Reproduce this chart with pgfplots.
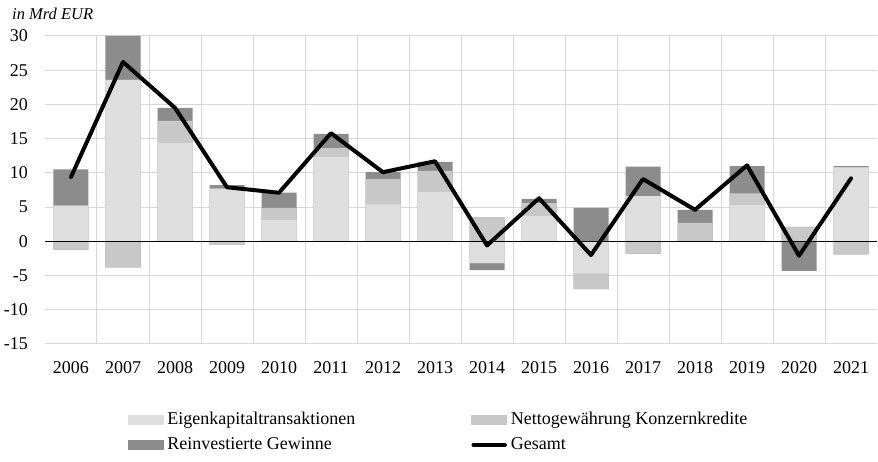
\documentclass[border=0pt]{standalone}
\usepackage{pgfplots}
\pgfplotsset{compat=1.18}
\usepackage{pgfplotstable}
\usepackage{fontspec}
\setmainfont{Liberation Serif}
\definecolor{cE}{HTML}{DEDEDE}
\definecolor{cN}{HTML}{C8C8C8}
\definecolor{cR}{HTML}{8C8C8C}
\definecolor{cG}{HTML}{D6D6D6}

% x: 0 = 2006 ... 15 = 2021
\pgfplotstableread{
x E N R T
0 5.2 -1.2 5.3 9.4
1 23.6 -3.8 6.4 26.2
2 14.4 3.2 1.9 19.5
3 7.7 -0.5 0.5 7.9
4 3.1 1.8 2.2 7.1
5 12.3 1.3 2.1 15.8
6 5.4 3.7 1.0 10.1
7 7.2 3.1 1.3 11.7
8 -3.2 3.5 -1.0 -0.6
9 3.7 1.9 0.6 6.3
10 -4.7 -2.3 4.9 -2.0
11 6.6 -1.8 4.3 9.1
12 0.0 2.7 1.9 4.6
13 5.3 1.7 4.0 11.1
14 0.0 2.1 -4.3 -2.1
15 10.8 -1.9 0.2 9.2
}\data

\begin{document}
\begin{tikzpicture}
\path[use as bounding box] (-45pt,-118pt) rectangle (833pt,344pt);
\begin{axis}[
  name=ax, at={(0pt,0pt)}, anchor=south west,
  scale only axis, width=832pt, height=308pt,
  xmin=-0.5, xmax=15.5, ymin=-15, ymax=30,
  axis line style={draw=none},
  major tick length=0pt, minor tick length=0pt,
  ytick={-15,-10,-5,0,5,10,15,20,25,30},
  yticklabels={-15,-10,-5,0,5,10,15,20,25,30},
  xtick={0,1,2,3,4,5,6,7,8,9,10,11,12,13,14,15},
  xticklabels={2006,2007,2008,2009,2010,2011,2012,2013,2014,2015,2016,2017,2018,2019,2020,2021},
  minor xtick={0.5,1.5,2.5,3.5,4.5,5.5,6.5,7.5,8.5,9.5,10.5,11.5,12.5,13.5,14.5},
  ymajorgrids, xminorgrids,
  major grid style={cG, line width=1pt},
  minor grid style={cG, line width=1pt},
  tick label style={font=\fontsize{18}{20}\selectfont, inner sep=0pt},
  yticklabel shift=17pt,
  xticklabel shift=17pt,
  legend columns=2,
  legend cell align=left,
  legend style={at={(axis description cs:0.0998,-0.2192)}, anchor=north west,
    draw=none, fill=none, inner sep=0pt, outer sep=0pt,
    font=\fontsize{18}{20}\selectfont,
    nodes={inner sep=0pt, text height=13pt, text depth=4pt},
    column sep=0pt, row sep=8pt,
    /tikz/every odd column/.append style={column sep=4pt}},
]
% positive stacks (drawn as overlapping cumulative bars)
\addplot[ybar, bar width=35pt, bar shift=0pt, fill=cR, draw=none, forget plot]
  table[x=x, y expr={max(\thisrow{E},0)+max(\thisrow{N},0)+max(\thisrow{R},0)}] {\data};
\addplot[ybar, bar width=35pt, bar shift=0pt, fill=cN, draw=none, forget plot]
  table[x=x, y expr={max(\thisrow{E},0)+max(\thisrow{N},0)}] {\data};
\addplot[ybar, bar width=35pt, bar shift=0pt, fill=cE, draw=none, forget plot]
  table[x=x, y expr={max(\thisrow{E},0)}] {\data};
% negative stacks
\addplot[ybar, bar width=35pt, bar shift=0pt, fill=cR, draw=none, forget plot]
  table[x=x, y expr={min(\thisrow{E},0)+min(\thisrow{N},0)+min(\thisrow{R},0)}] {\data};
\addplot[ybar, bar width=35pt, bar shift=0pt, fill=cN, draw=none, forget plot]
  table[x=x, y expr={min(\thisrow{E},0)+min(\thisrow{N},0)}] {\data};
\addplot[ybar, bar width=35pt, bar shift=0pt, fill=cE, draw=none, forget plot]
  table[x=x, y expr={min(\thisrow{E},0)}] {\data};
% zero line
\addplot[black, line width=1.3pt, forget plot] coordinates {(-0.5,0) (15.5,0)};
% total
\addplot[black, line width=4pt, line join=round, line cap=round, forget plot]
  table[x=x, y=T] {\data};

\addlegendimage{legend image code/.code={\fill[cE] (0pt,-4.5pt) rectangle (35pt,4.5pt);}}
\addlegendentry{\makebox[304pt][l]{Eigenkapitaltransaktionen}}
\addlegendimage{legend image code/.code={\fill[cN] (0pt,-4.5pt) rectangle (35pt,4.5pt);}}
\addlegendentry{Nettogewährung Konzernkredite}
\addlegendimage{legend image code/.code={\fill[cR] (0pt,-4.5pt) rectangle (35pt,4.5pt);}}
\addlegendentry{\makebox[304pt][l]{Reinvestierte Gewinne}}
\addlegendimage{legend image code/.code={\draw[black, line width=4.5pt, line cap=round] (2pt,0pt) -- (33pt,0pt);}}
\addlegendentry{Gesamt}
\end{axis}
\node[anchor=base west, inner sep=0pt, font=\itshape\fontsize{16.5}{18}\selectfont,
  xshift=-33pt, yshift=16pt] at (ax.north west) {in Mrd EUR};
\end{tikzpicture}
\end{document}
